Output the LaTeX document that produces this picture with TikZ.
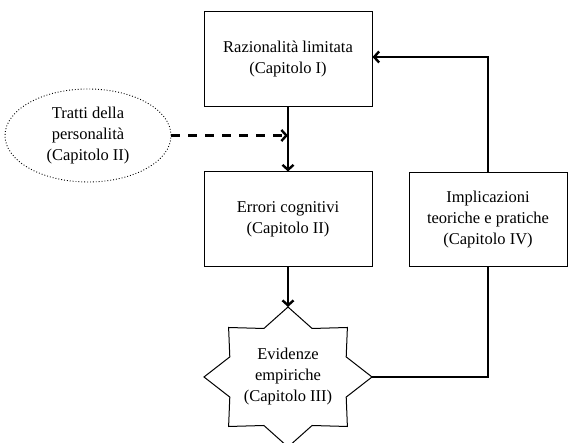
\documentclass[tikz,border=0pt]{standalone}
\usepackage{fontspec}
\setmainfont{Liberation Serif}
\usetikzlibrary{arrows.meta,calc,shapes.geometric}
\tikzset{
  chapbox/.style={
    draw,
    line width=1pt,
    align=center,
    inner sep=0pt,
    minimum width=168pt,
    minimum height=95pt
  },
  traitbox/.style={
    draw,
    dotted,
    line width=0.9pt,
    shape=ellipse,
    align=center,
    inner sep=0pt,
    minimum width=166pt,
    minimum height=93pt
  },
  startext/.style={
    align=center,
    inner sep=0pt
  },
  flow/.style={
    line width=2.4pt,
    -{Straight Barb[length=5pt,width=11pt]}
  },
  every picture/.style = {
    font=\fontsize{16.5pt}{21pt}\selectfont
  }
}

\begin{document}
\begin{tikzpicture}[x=1pt,y=1pt]
        \useasboundingbox (0,0) rectangle (568,443);
        \node[chapbox] (raz) at (288,383.5) {Razionalità limitata\\(Capitolo I)};
        \node[chapbox] (err) at (288,223.5) {Errori cognitivi\\(Capitolo II)};
        \node[chapbox,minimum width=158pt,minimum height=94pt] (impl) at (488,223) {Implicazioni\\teoriche e pratiche\\(Capitolo IV)};
        \node[traitbox] (tratti) at (88,307.5) {Tratti della\\personalità\\(Capitolo II)};
        \node[startext] (evid) at (288,66) {Evidenze\\empiriche\\(Capitolo III)};
        % star round the text, 8 points
        \draw[line width=1pt] ($(evid)+(0,70)$) coordinate (s0)
          \foreach \i in {1,...,15} {
            -- ($(evid)+({(mod(\i,2)==0 ? 1 : 0.75)*84*cos(90+22.5*\i)},{(mod(\i,2)==0 ? 1 : 0.75)*70*sin(90+22.5*\i)})$) coordinate (s\i)
          } -- cycle;
        \coordinate (join) at (raz.south |- tratti.east);
        \draw[flow] (raz.south) -- (err.north);
        \draw[flow,dash pattern=on 9pt off 8pt] (tratti.east) -- (join);
        \draw[flow] (err.south) -- (s0);
        \draw[line width=2.4pt] (s12) -- (impl.south |- s12) -- (impl.south);
        \draw[flow] (impl.north) |- ($(raz.east)+(0,2.5)$);
\end{tikzpicture}
\end{document}
